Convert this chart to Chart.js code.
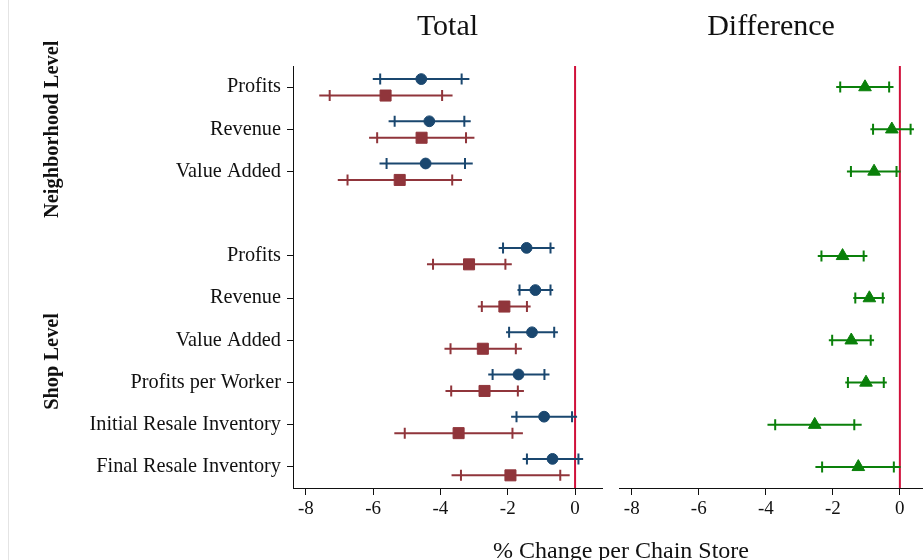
<!DOCTYPE html>
<html>
<head>
<meta charset="utf-8">
<script src="https://cdn.jsdelivr.net/npm/chart.js@4.4.1/dist/chart.umd.min.js"></script>
<style>
  body { margin: 0; background: #fff; }
  #wrap { position: relative; width: 923px; height: 560px; overflow: hidden; background: #fff; }
  #edge { position: absolute; left: 8px; top: 0; width: 1px; height: 560px; background: #e4e4e4; }
  #leftBox { position: absolute; left: 0; top: 0; width: 612px; height: 560px; }
  #rightBox { position: absolute; left: 619px; top: 0; width: 304px; height: 560px; }
  #xTitle { position: absolute; left: 421px; width: 400px; top: 536px; text-align: center;
            font: 24px "Liberation Serif", "DejaVu Serif", serif; line-height: 28px; color: #111; }
</style>
</head>
<body>
<div id="wrap">
  <div id="edge"></div>
  <div id="leftBox"><canvas id="totalChart"></canvas></div>
  <div id="rightBox"><canvas id="diffChart"></canvas></div>
  <div id="xTitle">% Change per Chain Store</div>
</div>
<script>
// rows, top to bottom
const rowLabels = ['Profits', 'Revenue', 'Value Added',
                   'Profits', 'Revenue', 'Value Added', 'Profits per Worker',
                   'Initial Resale Inventory', 'Final Resale Inventory'];
const rowSlots = [1, 2, 3, 5, 6, 7, 8, 9, 10];
const groupNames = ['Neighborhood Level', 'Shop Level'];
const groupRows = [[0, 1, 2], [3, 4, 5, 6, 7, 8]];
const xTicks = [-8, -6, -4, -2, 0];

// Total, circle series
const circEst   = [-4.57, -4.33, -4.44, -1.44, -1.18, -1.28, -1.68, -0.92, -0.67];
const circCapLo = [-5.79, -5.36, -5.60, -2.14, -1.65, -1.96, -2.45, -1.74, -1.43];
const circCapHi = [-3.37, -3.29, -3.27, -0.73, -0.73, -0.62, -0.91, -0.09,  0.10];
const circLo    = [-6.01, -5.54, -5.81, -2.27, -1.71, -2.05, -2.58, -1.90, -1.56];
const circHi    = [-3.14, -3.10, -3.04, -0.61, -0.65, -0.51, -0.76,  0.06,  0.24];

// Total, square series
const sqEst   = [-5.63, -4.56, -5.21, -3.15, -2.10, -2.74, -2.69, -3.46, -1.92];
const sqCapLo = [-7.29, -5.88, -6.76, -4.22, -2.77, -3.70, -3.68, -5.06, -3.39];
const sqCapHi = [-3.95, -3.24, -3.65, -2.07, -1.43, -1.76, -1.70, -1.86, -0.44];
const sqLo    = [-7.60, -6.12, -7.05, -4.40, -2.89, -3.88, -3.85, -5.37, -3.67];
const sqHi    = [-3.64, -2.99, -3.36, -1.88, -1.32, -1.58, -1.52, -1.55, -0.16];

// Difference, triangle series
const diffEst   = [-1.04, -0.24, -0.77, -1.71, -0.91, -1.45, -1.01, -2.54, -1.24];
const diffCapLo = [-1.78, -0.80, -1.46, -2.34, -1.33, -2.02, -1.55, -3.72, -2.32];
const diffCapHi = [-0.32,  0.32, -0.10, -1.08, -0.51, -0.87, -0.48, -1.36, -0.18];
const diffLo    = [-1.90, -0.88, -1.58, -2.45, -1.39, -2.12, -1.63, -3.95, -2.52];
const diffHi    = [-0.19,  0.42,  0.02, -0.97, -0.45, -0.77, -0.39, -1.14,  0.02];

const BLUE = '#1a476f', RED = '#90353b', GREEN = '#0a800a', ZERO = '#d0103a';
const SERIF = '"Liberation Serif", "DejaVu Serif", serif';

Chart.defaults.font.family = SERIF;
Chart.defaults.color = '#111';

function makeSet(est, capLo, capHi, lo, hi, shift, color, style, radius) {
    return {
        data: est.map((v, i) => ({ x: v, y: rowSlots[i] + shift })),
        capLo, capHi, lo, hi,
        backgroundColor: color,
        borderColor: color,
        borderWidth: 1,
        pointStyle: style,
        pointRadius: radius,
        pointHoverRadius: radius,
        showLine: false
    };
}

// ✅ zero line + confidence bars, drawn under the markers
const errorBars = {
    id: 'errorBars',
    beforeDatasetsDraw(chart) {
        const { ctx, chartArea, scales: { x, y } } = chart;
        ctx.save();
        const x0 = x.getPixelForValue(0);
        ctx.strokeStyle = ZERO;
        ctx.lineWidth = 2;
        ctx.beginPath();
        ctx.moveTo(x0, chartArea.top);
        ctx.lineTo(x0, chartArea.bottom);
        ctx.stroke();

        chart.data.datasets.forEach(ds => {
            ctx.strokeStyle = ds.borderColor;
            ctx.lineWidth = 2;
            ds.data.forEach((p, i) => {
                const py = y.getPixelForValue(p.y);
                ctx.beginPath();
                ctx.moveTo(x.getPixelForValue(ds.lo[i]), py);
                ctx.lineTo(x.getPixelForValue(ds.hi[i]), py);
                [ds.capLo[i], ds.capHi[i]].forEach(c => {
                    const px = x.getPixelForValue(c);
                    ctx.moveTo(px, py - 5.5);
                    ctx.lineTo(px, py + 5.5);
                });
                ctx.stroke();
            });
        });
        ctx.restore();
    }
};

// ✅ rotated group names left of the row labels
const groupLabels = {
    id: 'groupLabels',
    afterDraw(chart) {
        const { ctx, scales: { y } } = chart;
        ctx.save();
        ctx.font = 'bold 20.4px ' + SERIF;
        ctx.fillStyle = '#111';
        ctx.textAlign = 'center';
        ctx.textBaseline = 'middle';
        groupNames.forEach((name, g) => {
            const ys = groupRows[g].map(r => y.getPixelForValue(rowSlots[r]));
            const yc = (Math.min(...ys) + Math.max(...ys)) / 2;
            ctx.save();
            ctx.translate(53, yc);
            ctx.rotate(-Math.PI / 2);
            ctx.fillText(name, 0, 0);
            ctx.restore();
        });
        ctx.restore();
    }
};

function xScale(max) {
    return {
        type: 'linear',
        min: -8.38,
        max: max,
        afterBuildTicks: s => { s.ticks = xTicks.map(v => ({ value: v })); },
        afterFit: s => { s.height = 72; },
        grid: { drawOnChartArea: false, tickLength: 7, color: '#111', tickWidth: 1 },
        border: { display: true, color: '#111', width: 1 },
        ticks: { font: { size: 19 }, color: '#111', padding: 3 }
    };
}

function yScale(show, width) {
    return {
        type: 'linear',
        reverse: true,
        min: 0.5,
        max: 10.5,
        display: show,
        afterBuildTicks: s => { s.ticks = rowSlots.map(v => ({ value: v })); },
        afterFit: s => { s.width = width; },
        grid: { drawOnChartArea: false, tickLength: 6, color: '#111', tickWidth: 1 },
        border: { display: true, color: '#111', width: 1 },
        ticks: {
            font: { size: 20.3 },
            color: '#111',
            padding: 6,
            callback: v => {
                const i = rowSlots.indexOf(v);
                return i >= 0 ? rowLabels[i] : '';
            }
        }
    };
}

function titleOpts(text) {
    return {
        display: true,
        text: text,
        fullSize: false,
        color: '#111',
        font: { size: 30, weight: 'normal' },
        padding: { top: 9, bottom: 21 }
    };
}

new Chart(document.getElementById('totalChart'), {
    type: 'scatter',
    data: {
        datasets: [
            makeSet(circEst, circCapLo, circCapHi, circLo, circHi, -0.19, BLUE, 'circle', 5.4),
            makeSet(sqEst, sqCapLo, sqCapHi, sqLo, sqHi, 0.2, RED, 'rect', 7.8)
        ]
    },
    options: {
        responsive: true,
        maintainAspectRatio: false,
        animation: false,
        layout: { autoPadding: false, padding: { left: 0, right: 10, top: 0, bottom: 0 } },
        plugins: { legend: { display: false }, tooltip: { enabled: false }, title: titleOpts('Total') },
        scales: { x: xScale(0.80), y: yScale(true, 293) }
    },
    plugins: [errorBars, groupLabels]
});

new Chart(document.getElementById('diffChart'), {
    type: 'scatter',
    data: {
        datasets: [
            makeSet(diffEst, diffCapLo, diffCapHi, diffLo, diffHi, 0, GREEN, 'triangle', 7.3)
        ]
    },
    options: {
        responsive: true,
        maintainAspectRatio: false,
        animation: false,
        layout: { autoPadding: false, padding: 0 },
        plugins: { legend: { display: false }, tooltip: { enabled: false }, title: titleOpts('Difference') },
        scales: { x: xScale(0.69), y: yScale(false, 0) }
    },
    plugins: [errorBars]
});
</script>
</body>
</html>
